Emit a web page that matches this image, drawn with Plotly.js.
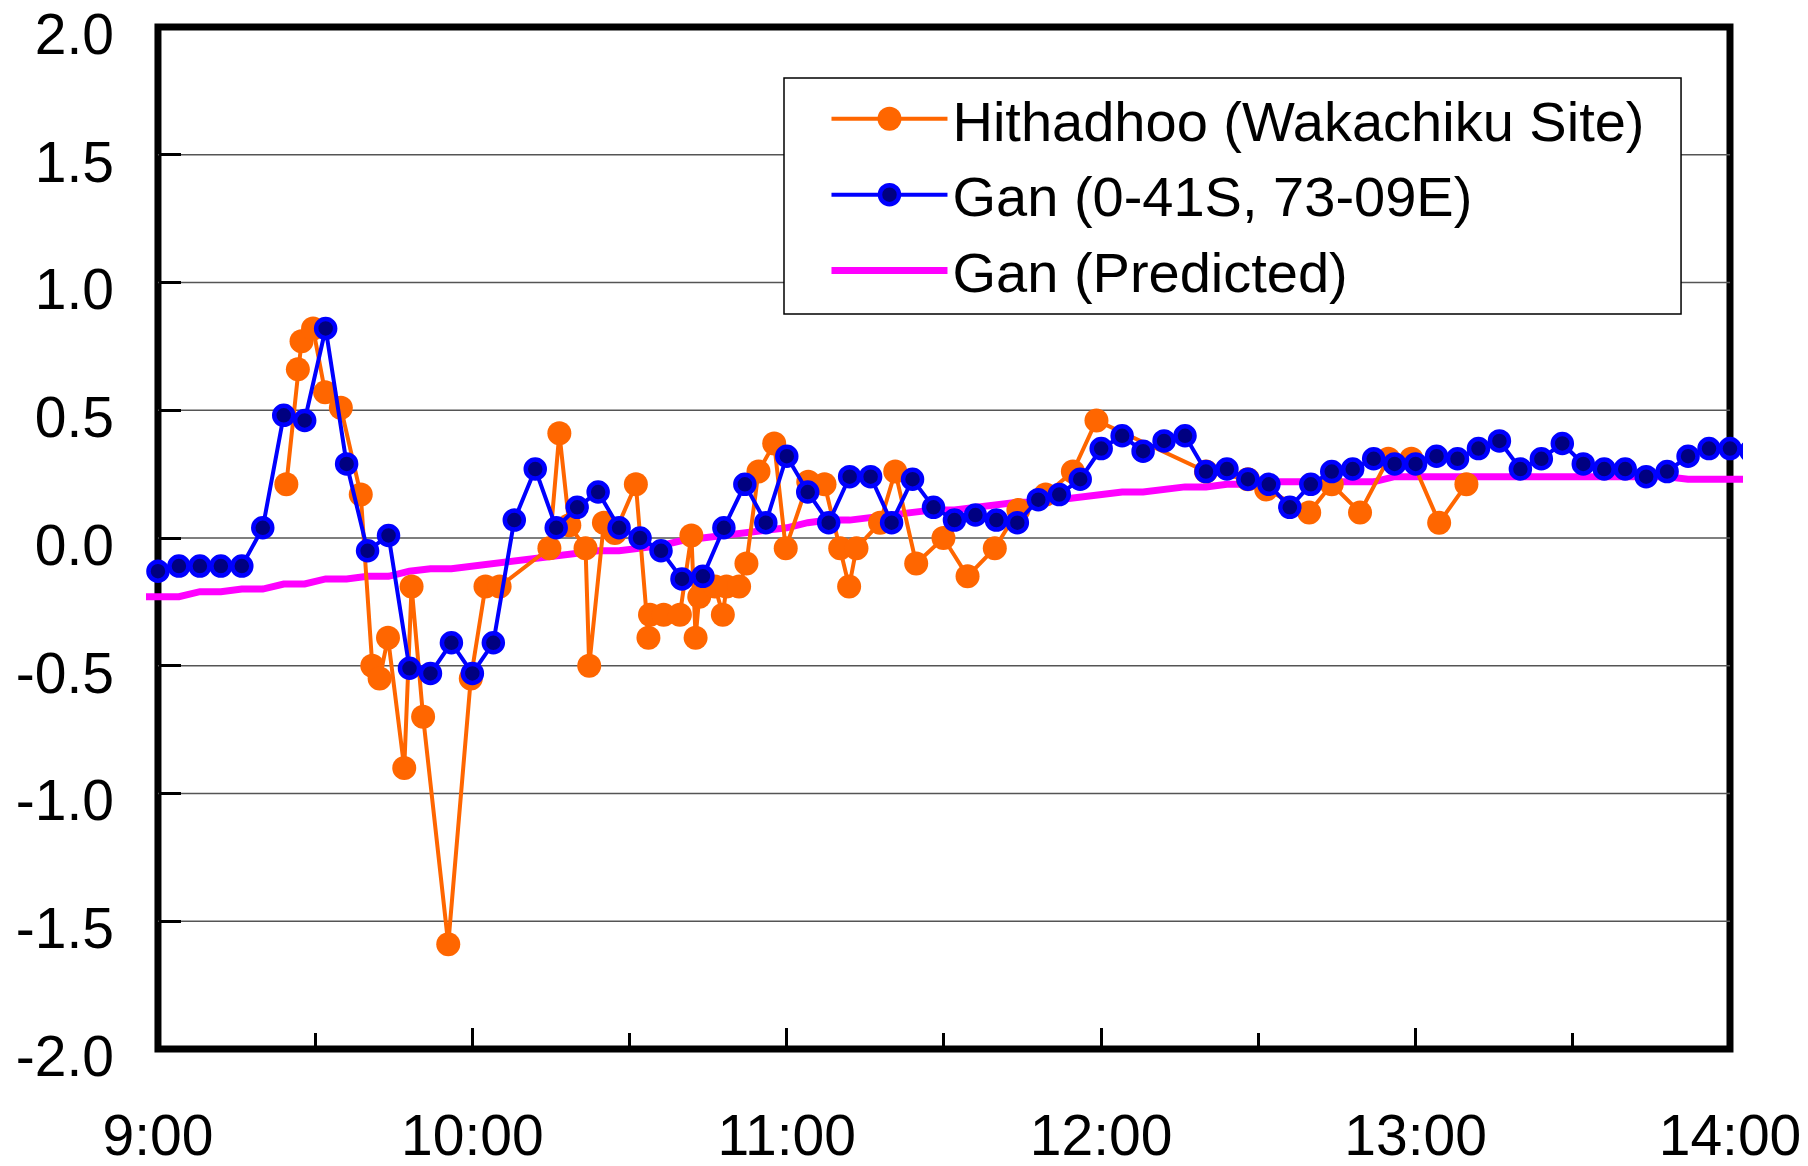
<!DOCTYPE html>
<html>
<head>
<meta charset="utf-8">
<script src="https://cdn.plot.ly/plotly-3.0.1.min.js"></script>
<style>
  html, body { margin: 0; padding: 0; background: #ffffff; }
  #chart { width: 1808px; height: 1166px; }
</style>
</head>
<body>
<div id="chart"></div>
<script>
// Sea level (m) on 26 Dec 2004, local time
const DAY = '2004-12-26 ';

// Hithadhoo (Wakachiku Site) – manual readings at irregular times
const hithTimes = [
  '09:24:30','09:26:42','09:27:24','09:29:36','09:31:54','09:34:54','09:38:42','09:40:54',
  '09:42:18','09:43:54','09:47:00','09:48:24','09:50:36','09:55:24','09:59:42','10:02:30',
  '10:05:12','10:14:42','10:16:36','10:18:30','10:21:36','10:22:18','10:25:06','10:27:12',
  '10:31:12','10:33:36','10:33:54','10:36:30','10:39:36','10:41:48','10:42:36','10:43:18',
  '10:46:18','10:47:48','10:48:30','10:50:54','10:52:18','10:54:36','10:57:36','10:59:48',
  '11:04:06','11:07:12','11:10:12','11:11:54','11:13:18','11:17:48','11:20:42','11:24:42',
  '11:29:54','11:34:30','11:39:42','11:44:12','11:49:24','11:54:36','11:59:06','12:20:00',
  '12:28:00','12:31:30','12:39:42','12:44:00','12:49:24','12:54:48','12:59:12','13:04:30',
  '13:09:42'
];
const hithLevel = [
   0.21, 0.66, 0.77, 0.82, 0.57, 0.51, 0.17,-0.50,
  -0.55,-0.39,-0.90,-0.19,-0.70,-1.59,-0.55,-0.19,
  -0.19,-0.04, 0.41, 0.05,-0.04,-0.50, 0.06, 0.02,
   0.21,-0.39,-0.30,-0.30,-0.30, 0.01,-0.39,-0.23,
  -0.19,-0.30,-0.19,-0.19,-0.10, 0.26, 0.37,-0.04,
   0.22, 0.21,-0.04,-0.19,-0.04, 0.06, 0.26,-0.10,
   0.00,-0.15,-0.04, 0.11, 0.17, 0.26, 0.46, 0.26,
   0.23, 0.19, 0.10, 0.21, 0.10, 0.31, 0.31, 0.06,
   0.21
];

// Gan (0-41S, 73-09E) – 4-minute gauge record
const ganTimes = [
  '09:00','09:04','09:08','09:12','09:16','09:20','09:24','09:28','09:32','09:36','09:40','09:44','09:48','09:52','09:56',
  '10:00','10:04','10:08','10:12','10:16','10:20','10:24','10:28','10:32','10:36','10:40','10:44','10:48','10:52','10:56',
  '11:00','11:04','11:08','11:12','11:16','11:20','11:24','11:28','11:32','11:36','11:40','11:44','11:48','11:52','11:56',
  '12:00','12:04','12:08','12:12','12:16','12:20','12:24','12:28','12:32','12:36','12:40','12:44','12:48','12:52','12:56',
  '13:00','13:04','13:08','13:12','13:16','13:20','13:24','13:28','13:32','13:36','13:40','13:44','13:48','13:52','13:56',
  '14:00','14:04'
];
const ganLevel = [
  -0.13,-0.11,-0.11,-0.11,-0.11, 0.04, 0.48, 0.46, 0.82, 0.29,-0.05, 0.01,-0.51,-0.53,-0.41,
  -0.53,-0.41, 0.07, 0.27, 0.04, 0.12, 0.18, 0.04, 0.00,-0.05,-0.16,-0.15, 0.04, 0.21, 0.06,
   0.32, 0.18, 0.06, 0.24, 0.24, 0.06, 0.23, 0.12, 0.07, 0.09, 0.07, 0.06, 0.15, 0.17, 0.23,
   0.35, 0.40, 0.34, 0.38, 0.40, 0.26, 0.27, 0.23, 0.21, 0.12, 0.21, 0.26, 0.27, 0.31, 0.29,
   0.29, 0.32, 0.31, 0.35, 0.38, 0.27, 0.31, 0.37, 0.29, 0.27, 0.27, 0.24, 0.26, 0.32, 0.35,
   0.35, 0.34
];

// Gan predicted tide
const predTimes = [
  '08:56',
  '09:00','09:04','09:08','09:12','09:16','09:20','09:24','09:28','09:32','09:36','09:40','09:44','09:48','09:52','09:56',
  '10:00','10:04','10:08','10:12','10:16','10:20','10:24','10:28','10:32','10:36','10:40','10:44','10:48','10:52','10:56',
  '11:00','11:04','11:08','11:12','11:16','11:20','11:24','11:28','11:32','11:36','11:40','11:44','11:48','11:52','11:56',
  '12:00','12:04','12:08','12:12','12:16','12:20','12:24','12:28','12:32','12:36','12:40','12:44','12:48','12:52','12:56',
  '13:00','13:04','13:08','13:12','13:16','13:20','13:24','13:28','13:32','13:36','13:40','13:44','13:48','13:52','13:56',
  '14:00','14:04'
];
const predLevel = [
  -0.23,
  -0.23,-0.23,-0.21,-0.21,-0.20,-0.20,-0.18,-0.18,-0.16,-0.16,-0.15,-0.15,-0.13,-0.12,-0.12,
  -0.11,-0.10,-0.09,-0.08,-0.07,-0.06,-0.05,-0.05,-0.04,-0.03,-0.01, 0.00, 0.01, 0.02, 0.03,
   0.04, 0.06, 0.07, 0.07, 0.08, 0.09, 0.10, 0.11, 0.11, 0.12, 0.13, 0.14, 0.14, 0.15, 0.16,
   0.17, 0.18, 0.18, 0.19, 0.20, 0.20, 0.21, 0.21, 0.22, 0.22, 0.22, 0.22, 0.22, 0.22, 0.24,
   0.24, 0.24, 0.24, 0.24, 0.24, 0.24, 0.24, 0.24, 0.24, 0.24, 0.24, 0.24, 0.24, 0.23, 0.23,
   0.23, 0.23
];

// Axis ticks
const yTickVals = [2.0, 1.5, 1.0, 0.5, 0.0, -0.5, -1.0, -1.5, -2.0];
const yTickText = ['2.0', '1.5', '1.0', '0.5', '0.0', '-0.5', '-1.0', '-1.5', '-2.0'];
const frameStart = '09:00';
const frameEnd = '14:00';
// the drawing area runs a little past the frame so lines reach its edges
const viewStart = '08:57:43';
const viewEnd = '14:02:29';

const stamp = t => DAY + t;
const ms = t => Date.parse('2004-12-26T' + (t.length === 5 ? t + ':00' : t) + 'Z');
const paperX = t => (ms(t) - ms(viewStart)) / (ms(viewEnd) - ms(viewStart));

const FONT = 'Liberation Sans, Arial, Helvetica, sans-serif';

const traces = [
  {
    name: 'Gan (Predicted)',
    x: predTimes.map(stamp), y: predLevel,
    type: 'scatter', mode: 'lines',
    line: { color: '#ff00ff', width: 7 },
    legendrank: 3, legendgroup: 'c',
    hoverinfo: 'skip'
  },
  {
    name: 'Hithadhoo (Wakachiku Site)',
    x: hithTimes.map(stamp), y: hithLevel,
    type: 'scatter', mode: 'lines+markers',
    line: { color: '#ff6600', width: 4 },
    marker: { color: '#ff6600', size: 24, line: { width: 0 } },
    legendrank: 1, legendgroup: 'a',
    hoverinfo: 'skip'
  },
  {
    name: 'Gan (0-41S, 73-09E)',
    x: ganTimes.map(stamp), y: ganLevel,
    type: 'scatter', mode: 'lines+markers',
    line: { color: '#0000ff', width: 4 },
    marker: { color: '#000080', size: 19, line: { color: '#0000ff', width: 4.5 } },
    legendrank: 2, legendgroup: 'b',
    hoverinfo: 'skip'
  }
];

const shapes = [];
yTickVals.filter(v => Math.abs(v) < 2).forEach(v => {
  shapes.push({
    type: 'line', xref: 'x', yref: 'y',
    x0: stamp(frameStart), x1: stamp(frameEnd), y0: v, y1: v,
    line: { color: '#555555', width: 1.5 }, layer: 'below'
  });
});
// plot frame
shapes.push({
  type: 'rect', xref: 'paper', yref: 'paper',
  x0: paperX(frameStart), x1: paperX(frameEnd), y0: 0, y1: 1,
  line: { color: '#000000', width: 7 }, fillcolor: 'rgba(0,0,0,0)', layer: 'below'
});
// legend box
shapes.push({
  type: 'rect', xref: 'paper', yref: 'paper',
  x0: 0.3995, x1: 0.9612, y0: 0.7192, y1: 0.9501,
  line: { color: '#000000', width: 1.5 }, fillcolor: '#ffffff', layer: 'above'
});

const layout = {
  width: 1808, height: 1166,
  margin: { l: 146, r: 65, t: 27, b: 117 },
  paper_bgcolor: '#ffffff', plot_bgcolor: '#ffffff',
  font: { family: FONT, color: '#000000' },
  showlegend: true,
  legend: {
    x: 0.4261, y: 0.9521, xanchor: 'left', yanchor: 'top',
    bgcolor: 'rgba(0,0,0,0)', borderwidth: 0,
    font: { family: FONT, size: 56, color: '#000000' },
    itemwidth: 116, tracegroupgap: 4, traceorder: 'normal'
  },
  xaxis: {
    type: 'date',
    range: [stamp(viewStart), stamp(viewEnd)],
    tick0: stamp(frameStart), dtick: 3600000,
    tickformat: '%-H:%M',
    ticks: 'inside', ticklen: 21, tickwidth: 3, tickcolor: '#000000',
    minor: { dtick: 1800000, ticks: 'inside', ticklen: 16, tickwidth: 3, tickcolor: '#000000', showgrid: false },
    showgrid: false, zeroline: false, showline: false,
    tickfont: { family: FONT, size: 57, color: '#000000' },
    ticklabelstandoff: 48,
    ticklabeloverflow: 'allow',
    fixedrange: true
  },
  yaxis: {
    range: [-2, 2],
    anchor: 'free', position: paperX(frameStart), side: 'left',
    tickvals: yTickVals, ticktext: yTickText,
    ticks: 'inside', ticklen: 22, tickwidth: 3, tickcolor: '#000000',
    showgrid: false, zeroline: false, showline: false,
    tickfont: { family: FONT, size: 57, color: '#000000' },
    ticklabelstandoff: 44,
    ticklabelshift: 7,
    ticklabeloverflow: 'allow',
    fixedrange: true
  },
  shapes: shapes
};

Plotly.newPlot('chart', traces, layout, { staticPlot: true, displayModeBar: false }).then(gd => {
  // legend symbols use the same marker diameter as the plotted points
  gd.querySelectorAll('.legend .traces').forEach(g => {
    const d = g.__data__;
    const tr = d && d[0] && d[0].trace;
    const pts = g.querySelector('path.scatterpts');
    if (!tr || !pts || !tr.marker || !tr.marker.size) return;
    const r = tr.marker.size / 2;
    pts.setAttribute('d', `M${r},0A${r},${r} 0 1,1 0,-${r}A${r},${r} 0 0,1 ${r},0Z`);
  });
});
</script>
</body>
</html>
